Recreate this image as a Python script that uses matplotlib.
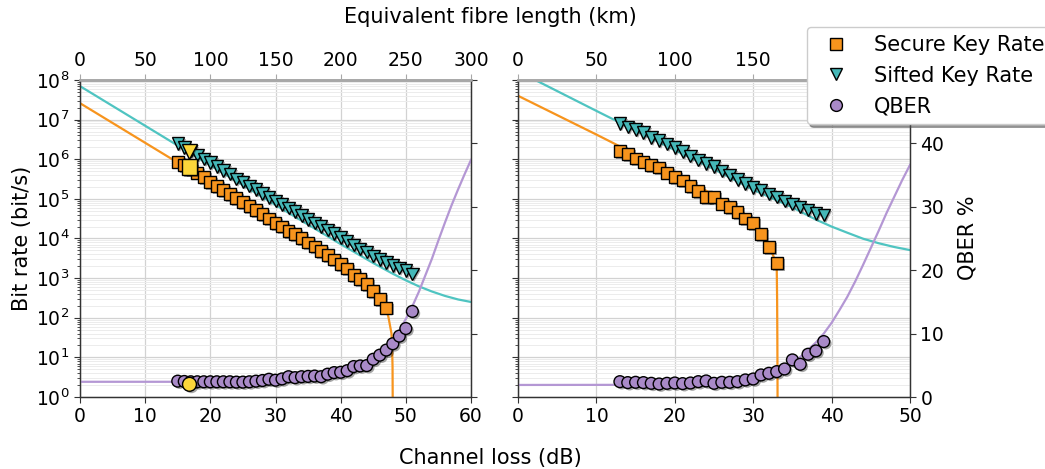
import numpy as np
import matplotlib
matplotlib.use("Agg")
import matplotlib.pyplot as plt
import matplotlib.patheffects as pe
from matplotlib.lines import Line2D
from matplotlib.ticker import LogLocator, NullFormatter, MultipleLocator

plt.rcParams['font.family'] = ['DejaVu Sans']

# ---------------- data: short-distance link (left panel) ----------------
loss_skr_L = np.arange(15, 48)          # dB
skr_L = [8.7e5, 7.1e5, 5.6e5, 4.6e5, 3.5e5, 2.7e5, 2.1e5, 1.66e5, 1.35e5, 1.07e5,
         8.5e4, 6.6e4, 5.2e4, 4.1e4, 3.2e4, 2.5e4, 2.0e4, 1.55e4, 1.29e4, 1.02e4,
         7.9e3, 6.3e3, 4.8e3, 3.8e3, 2.95e3, 2.3e3, 1.74e3, 1.2e3, 930, 720,
         470, 300, 180]
loss_sift_L = np.arange(15, 52)
sifted_L = [2.5e6, 2.0e6, 1.6e6, 1.29e6, 1.0e6, 8.3e5, 6.5e5, 5.2e5, 4.2e5, 3.2e5,
            2.7e5, 2.1e5, 1.74e5, 1.35e5, 1.07e5, 8.9e4, 7.2e4, 5.8e4, 4.8e4, 3.8e4,
            3.0e4, 2.45e4, 2.0e4, 1.66e4, 1.35e4, 1.07e4, 8.7e3, 6.9e3, 5.5e3, 4.5e3,
            3.6e3, 2.95e3, 2.45e3, 2.1e3, 1.8e3, 1.55e3, 1.26e3]
qber_L = [2.5, 2.45, 2.4, 2.4, 2.4, 2.4, 2.4, 2.4, 2.4, 2.35,
          2.35, 2.4, 2.5, 2.6, 2.8, 2.65, 2.85, 3.2, 3.05, 3.2,
          3.25, 3.3, 3.2, 3.6, 3.85, 3.9, 4.15, 4.8, 4.9, 4.95,
          5.95, 6.6, 7.4, 8.4, 9.6, 10.8, 13.5]

# highlighted operating point
hl_loss = 16.8
hl_skr = 6.4e5
hl_sifted = 1.6e6
hl_qber = 2.0

# simulated curves (left)
sim_sift_loss_L = [0, 10, 20, 30, 40, 45, 48, 50, 52, 54, 56, 58, 60]
sim_sift_L = [7.0e7, 7.0e6, 7.0e5, 7.0e4, 7.2e3, 2.4e3, 1.29e3, 880, 620, 460, 356, 290, 250]
sim_skr_loss_L = [0, 10, 20, 30, 35, 40, 42, 44, 45, 46, 46.8, 47.3, 47.6, 47.8, 47.9, 47.96, 48.0]
sim_skr_L = [2.6e7, 2.6e6, 2.6e5, 2.5e4, 7.6e3, 2.2e3, 1.3e3, 720, 500, 320, 180, 110, 60, 40, 16, 6, 0.3]
sim_qber_loss_L = [0, 20, 30, 35, 40, 43, 45, 47, 48, 49, 50, 51, 52, 53, 54, 55, 56, 57, 58, 59, 60]
sim_qber_L = [2.4, 2.4, 2.5, 2.9, 3.6, 4.8, 6.0, 7.6, 9.0, 10.5, 12.3, 14.3, 16.6, 19.2,
              21.8, 24.7, 27.5, 30.2, 32.7, 35.1, 37.4]

# ---------------- data: second link (right panel) ----------------
loss_skr_R = np.arange(13, 34)
skr_R = [1.58e6, 1.35e6, 1.05e6, 8.7e5, 7.1e5, 6.2e5, 4.6e5, 3.5e5, 2.9e5, 2.1e5,
         1.55e5, 1.12e5, 1.12e5, 7.6e4, 6.2e4, 4.7e4, 3.2e4, 2.5e4, 1.29e4, 6.0e3, 2.45e3]
loss_sift_R = np.arange(13, 40)
sifted_R = [8.1e6, 6.6e6, 5.6e6, 4.7e6, 3.5e6, 3.0e6, 2.4e6, 2.0e6, 1.55e6, 1.2e6,
            9.5e5, 7.9e5, 6.5e5, 5.1e5, 4.0e5, 3.1e5, 2.45e5, 1.95e5, 1.66e5, 1.32e5,
            1.12e5, 8.9e4, 7.4e4, 6.2e4, 5.2e4, 4.3e4, 3.9e4]
qber_R = [2.42, 2.27, 2.32, 2.27, 2.16, 2.05, 2.16, 2.21, 2.11, 2.21,
          2.42, 2.53, 2.16, 2.32, 2.32, 2.42, 2.69, 2.84, 3.48, 3.74,
          4.0, 4.42, 5.85, 5.16, 6.74, 7.27, 8.74]

sim_sift_loss_R = [0, 10, 20, 25, 30, 35, 38, 40, 42, 44, 46, 48, 50]
sim_sift_R = [1.66e8, 1.66e7, 1.7e6, 5.6e5, 1.7e5, 6.1e4, 3.0e4, 2.0e4, 1.4e4, 9.9e3, 7.6e3, 6.1e3, 5.1e3]
sim_skr_loss_R = [0, 10, 20, 25, 28, 30, 31, 32, 32.6, 33.0, 33.05, 33.08, 33.1, 33.12]
sim_skr_R = [4.0e7, 4.2e6, 4.2e5, 1.26e5, 5.8e4, 2.8e4, 1.5e4, 6.6e3, 3.5e3, 2.0e3, 300, 30, 3, 0.1]
sim_qber_loss_R = [0, 15, 20, 25, 28, 30, 32, 34, 36, 38, 39, 40, 41, 42, 43, 44, 45, 46, 47, 48, 49, 50]
sim_qber_R = [1.9, 1.92, 2.03, 2.3, 2.7, 3.1, 3.8, 4.8, 6.3, 8.6, 10.0, 11.7, 13.7, 15.8,
              18.2, 20.8, 23.5, 26.2, 29.0, 31.6, 34.2, 36.6]

DB_PER_KM = 0.2

# ---------------- styling ----------------
C_ORANGE = '#f7941d'
C_TEAL = '#45b8b8'
C_TEAL_LINE = '#4fc4c1'
C_PURPLE = '#a98ac8'
C_PURPLE_LINE = '#b497d4'
C_YELLOW = '#fcd63a'
SPINE = '#333333'
TOP_SPINE = '#a8a8a8'
TICK_FS = 13.5
LABEL_FS = 15

shadow = [pe.SimplePatchShadow(offset=(1.4, -1.4), shadow_rgbFace='black', alpha=0.35),
          pe.Normal()]

W, H = 1045, 469
fig = plt.figure(figsize=(W / 100, H / 100), dpi=100)
ax_l = fig.add_axes([80 / W, 72 / H, 391 / W, 317 / H])
ax_r = fig.add_axes([518 / W, 72 / H, 392 / W, 317 / H])


def style_panel(ax, xmax, left_labels, right_labels):
    ax.set_yscale('log')
    ax.set_ylim(1, 1e8)
    ax.set_xlim(0, xmax)
    ax.yaxis.set_major_locator(LogLocator(base=10, numticks=20))
    ax.yaxis.set_minor_locator(LogLocator(base=10, subs=np.arange(2, 10), numticks=20))
    ax.yaxis.set_minor_formatter(NullFormatter())
    ax.xaxis.set_major_locator(MultipleLocator(10))
    ax.grid(True, which='major', color='#d2d2d2', lw=0.9)
    ax.grid(True, which='minor', axis='y', color='#ececec', lw=0.7)
    ax.set_axisbelow(True)
    ax.tick_params(axis='both', which='major', labelsize=TICK_FS, length=4,
                   width=0.8, color=SPINE, labelleft=left_labels)
    ax.tick_params(axis='y', which='minor', length=2, width=0.6, color=SPINE)
    for side in ('left', 'bottom', 'right'):
        ax.spines[side].set_color(SPINE)
        ax.spines[side].set_linewidth(0.9)
    ax.spines['top'].set_color(TOP_SPINE)
    ax.spines['top'].set_linewidth(1.8)

    top = ax.secondary_xaxis('top', functions=(lambda d: d / DB_PER_KM,
                                               lambda k: k * DB_PER_KM))
    top.xaxis.set_major_locator(MultipleLocator(50))
    top.tick_params(labelsize=TICK_FS, length=4, width=0.8, color=TOP_SPINE)
    top.spines['top'].set_color(TOP_SPINE)
    top.spines['top'].set_linewidth(1.8)

    tw = ax.twinx()
    tw.set_ylim(0, 50)
    tw.yaxis.set_major_locator(MultipleLocator(10))
    tw.tick_params(axis='y', labelsize=TICK_FS, length=4, width=0.8, color=SPINE,
                   labelright=right_labels)
    for side in ('left', 'bottom', 'right'):
        tw.spines[side].set_color(SPINE)
        tw.spines[side].set_linewidth(0.9)
    tw.spines['top'].set_color(TOP_SPINE)
    tw.spines['top'].set_linewidth(1.8)
    return tw


tw_l = style_panel(ax_l, 60, True, False)
tw_r = style_panel(ax_r, 50, False, True)

mk = dict(ls='none', mec='black', mew=1.0, path_effects=shadow)

# left panel
ax_l.plot(sim_sift_loss_L, sim_sift_L, color=C_TEAL_LINE, lw=1.6)
ax_l.plot(sim_skr_loss_L, sim_skr_L, color=C_ORANGE, lw=1.6)
ax_l.plot(loss_skr_L, skr_L, marker='s', ms=8.5, mfc=C_ORANGE, **mk)
ax_l.plot(loss_sift_L, sifted_L, marker='v', ms=9, mfc=C_TEAL, **mk)
ax_l.plot([hl_loss], [hl_sifted], marker='v', ms=11, mfc=C_YELLOW, **mk)
ax_l.plot([hl_loss], [hl_skr], marker='s', ms=11, mfc=C_YELLOW, **mk)
tw_l.plot(sim_qber_loss_L, sim_qber_L, color=C_PURPLE_LINE, lw=1.6)
tw_l.plot(loss_sift_L, qber_L, marker='o', ms=8.5, mfc=C_PURPLE, **mk)
tw_l.plot([hl_loss], [hl_qber], marker='o', ms=10, mfc=C_YELLOW, **mk)

# right panel
ax_r.plot(sim_sift_loss_R, sim_sift_R, color=C_TEAL_LINE, lw=1.6)
ax_r.plot(sim_skr_loss_R, sim_skr_R, color=C_ORANGE, lw=1.6)
ax_r.plot(loss_skr_R, skr_R, marker='s', ms=8.5, mfc=C_ORANGE, **mk)
ax_r.plot(loss_sift_R, sifted_R, marker='v', ms=9, mfc=C_TEAL, **mk)
tw_r.plot(sim_qber_loss_R, sim_qber_R, color=C_PURPLE_LINE, lw=1.6)
tw_r.plot(loss_sift_R, qber_R, marker='o', ms=8.5, mfc=C_PURPLE, **mk)

# shared labels
fig.text(490 / W, 1 - 458 / H, 'Channel loss (dB)', ha='center', va='center', fontsize=LABEL_FS)
fig.text(490 / W, 1 - 17 / H, 'Equivalent fibre length (km)', ha='center', va='center',
         fontsize=LABEL_FS)
fig.text(22 / W, 1 - 238 / H, 'Bit rate (bit/s)', ha='center', va='center',
         rotation=90, fontsize=LABEL_FS)
fig.text(967 / W, 1 - 238 / H, 'QBER %', ha='center', va='center',
         rotation=90, fontsize=LABEL_FS)

handles = [
    Line2D([], [], ls='none', marker='s', ms=8.5, mfc=C_ORANGE, mec='black', mew=1.0),
    Line2D([], [], ls='none', marker='v', ms=9, mfc=C_TEAL, mec='black', mew=1.0),
    Line2D([], [], ls='none', marker='o', ms=8.5, mfc=C_PURPLE, mec='black', mew=1.0),
]
fig.legend(handles, ['Secure Key Rate', 'Sifted Key Rate', 'QBER'],
           loc='upper left', bbox_to_anchor=(807 / W, 1 - 27 / H),
           fontsize=LABEL_FS, frameon=True, fancybox=True, shadow=True,
           framealpha=1.0, edgecolor='#cccccc', borderaxespad=0)

fig.savefig('out.png', dpi=100)
